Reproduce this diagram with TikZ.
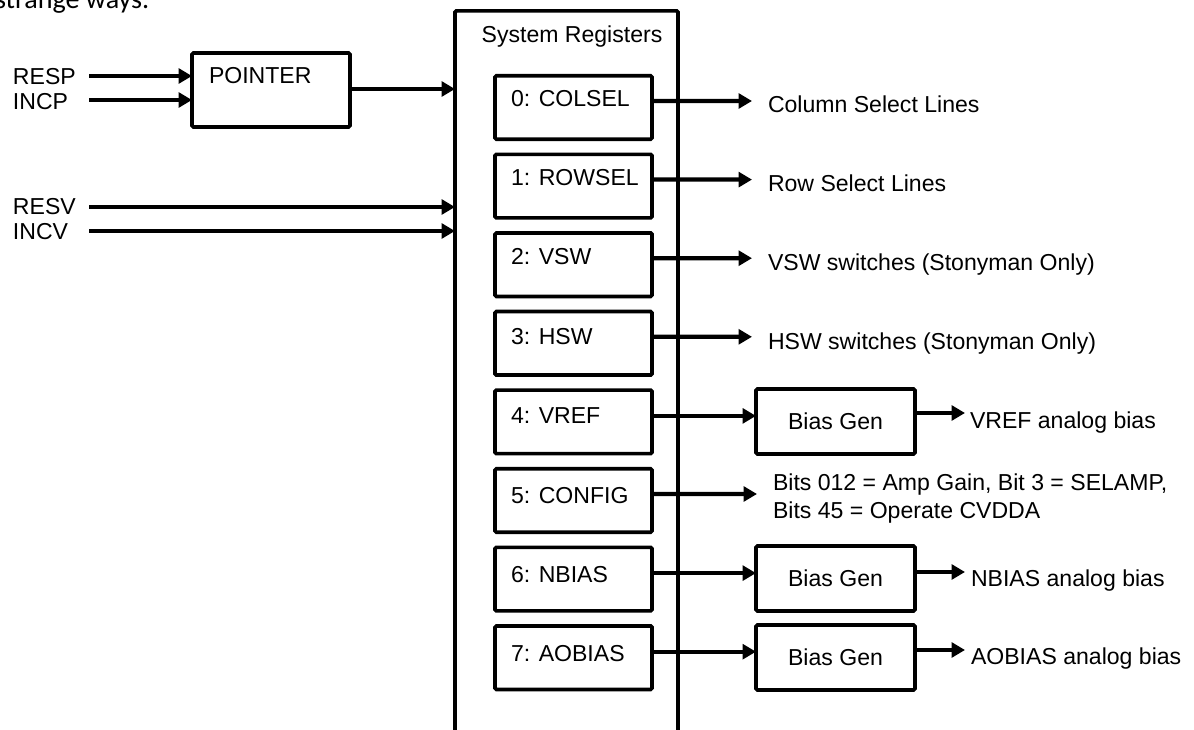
\documentclass[tikz,border=0pt]{standalone}
\usepackage{fontspec}
\setmainfont{Liberation Sans}
\newfontfamily\bodyfont{Carlito}
\usetikzlibrary{arrows.meta}
\newcommand\diafont{\fontsize{16.4pt}{19.9pt}\selectfont}

\begin{document}
\begin{tikzpicture}[x=0.025cm,y=-0.025cm,
  every node/.style={font=\diafont, inner sep=0pt, outer sep=0pt},
  box/.style={draw, line width=2.6pt, rounded corners=1pt},
  wire/.style={line width=3pt},
  arr/.style={wire, -{Triangle[length=9.5pt,width=10.5pt]}},
  lbl/.style={anchor=base west}]

\useasboundingbox (0,0) rectangle (1194,729);
\clip (0,0) rectangle (1194,729);

% tail of the preceding paragraph
\node[anchor=base west, font=\bodyfont\fontsize{20pt}{24pt}\selectfont] (note) at (-5,8.5) {strange ways.};

% pointer block and its inputs
\node[box, minimum width=3.95cm, minimum height=1.85cm] (ptr) at (271,90) {};
\node[lbl] (ptrtxt) at (209,83) {POINTER};

\node[lbl] (resp) at (13,84) {RESP};
\node[lbl] (incp) at (13,109) {INCP};
\node[lbl] (resv) at (13,214) {RESV};
\node[lbl] (incv) at (13,239) {INCV};
\coordinate (inRESP) at (89,76);
\coordinate (inINCP) at (89,100);
\coordinate (inRESV) at (89,207);
\coordinate (inINCV) at (89,231);

% register file
\node[box, minimum width=5.575cm, minimum height=18.725cm] (sys) at (566.5,385.5) {};
\node[anchor=base] (systxt) at (572,43) {System Registers};

\foreach \i/\t in {0/{0: COLSEL},1/{1: ROWSEL},2/{2: VSW},3/{3: HSW},
                   4/{4: VREF},5/{5: CONFIG},6/{6: NBIAS},7/{7: AOBIAS}}{
  \node[box, minimum width=3.925cm, minimum height=1.5875cm] (reg\i) at (573.5,{107.5+78.6*\i}) {};
  \node[lbl] (regtxt\i) at (511,{106+79.4*\i}) {\t};
}

\draw[arr] (inRESP) -- (inRESP -| ptr.west);
\draw[arr] (inINCP) -- (inINCP -| ptr.west);
\draw[arr] ([yshift=0.025cm]ptr.east) -- ([yshift=0.025cm]ptr.east -| sys.west);
\draw[arr] (inRESV) -- (inRESV -| sys.west);
\draw[arr] (inINCV) -- (inINCV -| sys.west);

% plain digital outputs
\foreach \i in {0,1,2,3}{
  \coordinate (tip\i) at (752,{101+78.6*\i});
  \draw[arr] ([yshift=0.1625cm]reg\i.east) -- (tip\i);
}
\node[lbl] (out0) at (768,112.5) {Column Select Lines};
\node[lbl] (out1) at (768,191.5) {Row Select Lines};
\node[lbl] (out2) at (768,270) {VSW switches (Stonyman Only)};
\node[lbl] (out3) at (768,349) {HSW switches (Stonyman Only)};

% configuration bits
\coordinate (tip5) at (757,494);
\draw[arr] ([yshift=0.1625cm]reg5.east) -- (tip5);
\node[lbl] (cfgA) at (773,490) {Bits 012 = Amp Gain, Bit 3 = SELAMP,};
\node[lbl] (cfgB) at (773,518) {Bits 45 = Operate CVDDA};

% bias generators
\node[box, minimum width=3.975cm, minimum height=1.625cm] (bg4) at (835.5,421.5) {Bias Gen};
\node[box, minimum width=3.975cm, minimum height=1.625cm] (bg6) at (835.5,578.5) {Bias Gen};
\node[box, minimum width=3.975cm, minimum height=1.625cm] (bg7) at (835.5,657.5) {Bias Gen};

\foreach \i in {4,6,7}{
  \draw[arr] ([yshift=0.15cm]reg\i.east) -- ([yshift=0.15cm]reg\i.east -| bg\i.west);
}

\coordinate (tip4) at (965,413);
\coordinate (tip6) at (965,572);
\coordinate (tip7) at (965,650);
\foreach \i in {4,6,7}{
  \draw[arr] (bg\i.east |- tip\i) -- (tip\i);
}
\node[lbl] (bias4) at (970,428) {VREF analog bias};
\node[lbl] (bias6) at (971,586) {NBIAS analog bias};
\node[lbl] (bias7) at (971,664) {AOBIAS analog bias};

\end{tikzpicture}
\end{document}
